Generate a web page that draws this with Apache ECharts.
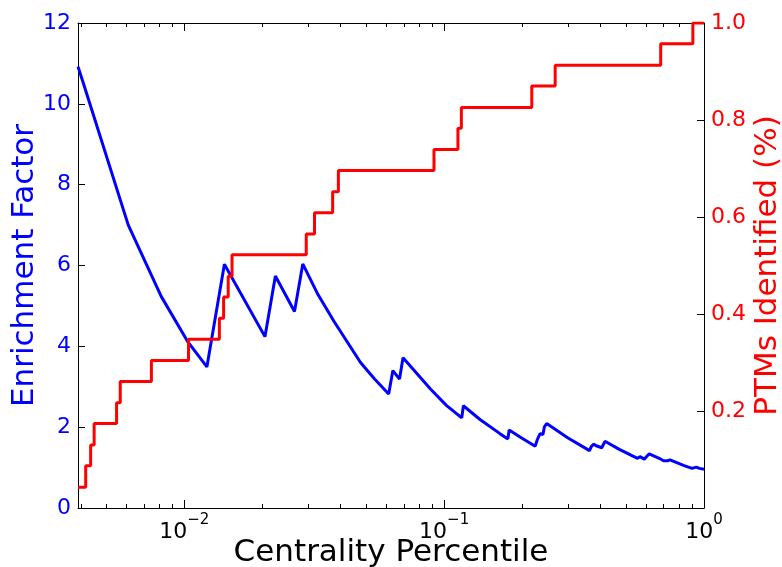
<!DOCTYPE html>
<html>
<head>
<meta charset="utf-8">
<script src="https://cdn.jsdelivr.net/npm/echarts@6/dist/echarts.min.js"></script>
<style>
  html, body { margin: 0; padding: 0; background: #fff; }
  #chart { width: 782px; height: 567px; }
</style>
</head>
<body>
<div id="chart"></div>
<script>
// enrichment factor (blue, left axis)
const efX = [0.0039, 0.00409, 0.00609, 0.00816, 0.01033, 0.01222, 0.01427, 0.02044, 0.02242, 0.02656,
  0.02858, 0.0327, 0.03766, 0.04767, 0.054, 0.06118, 0.06349, 0.06735, 0.06947, 0.08841,
  0.102, 0.1169, 0.1186, 0.1374, 0.164, 0.1759, 0.1779, 0.198, 0.2242, 0.2286,
  0.231, 0.234, 0.24, 0.2432, 0.2455, 0.2481, 0.2987, 0.3626, 0.3681, 0.3725,
  0.3766, 0.3846, 0.4042, 0.4158, 0.4724, 0.5551, 0.5671, 0.5771, 0.589, 0.6155,
  0.6724, 0.6985, 0.706, 0.725, 0.74, 0.8385, 0.8995, 0.9343, 0.96, 1.0];
const efY = [10.92, 10.51, 7.0, 5.23, 4.11, 3.49, 6.03, 4.24, 5.74, 4.86,
  6.04, 5.28, 4.62, 3.6, 3.19, 2.82, 3.4, 3.19, 3.72, 2.95,
  2.54, 2.23, 2.53, 2.19, 1.84, 1.71, 1.93, 1.74, 1.53, 1.7,
  1.69, 1.84, 1.82, 2.01, 2.0, 2.09, 1.74, 1.42, 1.52, 1.5,
  1.58, 1.54, 1.49, 1.65, 1.45, 1.23, 1.27, 1.23, 1.21, 1.34,
  1.23, 1.17, 1.2, 1.17, 1.19, 1.05, 0.98, 1.01, 0.98, 0.96];

// PTMs identified (red, right axis): x where each new level starts
const ptmX = [0.0039, 0.004175, 0.004362, 0.0045, 0.005489, 0.005671, 0.007473, 0.01038, 0.01365, 0.01417,
  0.01476, 0.01527, 0.02947, 0.03171, 0.03724, 0.03918, 0.0914, 0.113, 0.1165, 0.2174,
  0.2675, 0.6813, 0.906, 1.0];
const ptmY = [0.043, 0.087, 0.13, 0.174, 0.217, 0.261, 0.304, 0.348, 0.391, 0.435,
  0.478, 0.522, 0.565, 0.609, 0.652, 0.696, 0.739, 0.783, 0.826, 0.87,
  0.913, 0.957, 1.0, 1.0];

const xMajor = [0.01, 0.1, 1];
const xMinor = [0.004, 0.005, 0.006, 0.007, 0.008, 0.009,
  0.02, 0.03, 0.04, 0.05, 0.06, 0.07, 0.08, 0.09,
  0.2, 0.3, 0.4, 0.5, 0.6, 0.7, 0.8, 0.9];

const FONT = "DejaVu Sans";
const xMin = 0.0039, xMax = 1;

function tickAxis(pos, values, len, withLine) {
  return {
    type: "log", logBase: 10, min: xMin, max: xMax, position: pos,
    axisLine: { show: withLine, onZero: false, lineStyle: { color: "#000", width: 1 } },
    axisTick: { show: true, inside: true, length: len, customValues: values,
      lineStyle: { color: "#000", width: 1 } },
    axisLabel: { show: false },
    splitLine: { show: false },
  };
}

const chart = echarts.init(document.getElementById("chart"));

const bottomAxis = tickAxis("bottom", xMajor, 8, true);
bottomAxis.name = "Centrality Percentile";
bottomAxis.nameLocation = "middle";
bottomAxis.nameGap = 29;
bottomAxis.nameMoveOverlap = false;
bottomAxis.nameTextStyle = { fontFamily: FONT, fontSize: 31, color: "#000" };
bottomAxis.axisLabel = {
  show: true, customValues: xMajor, margin: 5,
  formatter: function (v) {
    const p = Math.round(Math.log10(v));
    return "{b|10}{s|" + (p < 0 ? "\u2212" + (-p) : p) + "}";
  },
  rich: {
    b: { fontFamily: FONT, fontSize: 22, color: "#000", lineHeight: 30, verticalAlign: "bottom" },
    s: { fontFamily: FONT, fontSize: 15, color: "#000", lineHeight: 15, verticalAlign: "top" },
  },
};

chart.setOption({
  animation: false,
  backgroundColor: "#fff",
  grid: { left: 78, right: 78, top: 23, bottom: 59, containLabel: false, outerBoundsMode: "none" },
  xAxis: [
    bottomAxis,
    tickAxis("bottom", xMinor, 4, false),
    tickAxis("top", xMajor, 8, true),
    tickAxis("top", xMinor, 4, false),
  ],
  yAxis: [
    {
      type: "value", min: 0, max: 12, interval: 2, position: "left",
      name: "Enrichment Factor", nameLocation: "middle", nameGap: 38, nameMoveOverlap: false,
      nameTextStyle: { fontFamily: FONT, fontSize: 31, color: "#0000ff" },
      axisLine: { show: true, lineStyle: { color: "#000", width: 1 } },
      axisTick: { show: true, inside: true, length: 7, lineStyle: { color: "#000" } },
      axisLabel: { fontFamily: FONT, fontSize: 22, color: "#0000ff", margin: 7 },
      splitLine: { show: false },
    },
    {
      type: "value", min: 0, max: 1, interval: 0.2, position: "right",
      name: "PTMs Identified (%)", nameLocation: "middle", nameGap: 48, nameMoveOverlap: false,
      nameTextStyle: { fontFamily: FONT, fontSize: 31, color: "#ff0000" },
      axisLine: { show: true, lineStyle: { color: "#000", width: 1 } },
      axisTick: { show: true, inside: true, length: 7, lineStyle: { color: "#000" } },
      axisLabel: {
        fontFamily: FONT, fontSize: 22, color: "#ff0000", margin: 7,
        showMinLabel: false,
        formatter: (v) => (v === 0 ? "" : v.toFixed(1)),
      },
      splitLine: { show: false },
    },
  ],
  series: [
    {
      name: "Enrichment Factor", type: "line", xAxisIndex: 0, yAxisIndex: 0,
      data: efX.map((x, i) => [x, efY[i]]),
      showSymbol: false, symbol: "none",
      lineStyle: { color: "#0000ff", width: 3 },
      z: 2,
    },
    {
      name: "PTMs Identified", type: "line", xAxisIndex: 0, yAxisIndex: 1,
      data: ptmX.map((x, i) => [x, ptmY[i]]),
      step: "end", showSymbol: false, symbol: "none",
      lineStyle: { color: "#ff0000", width: 3 },
      z: 3,
    },
  ],
});
</script>
</body>
</html>
